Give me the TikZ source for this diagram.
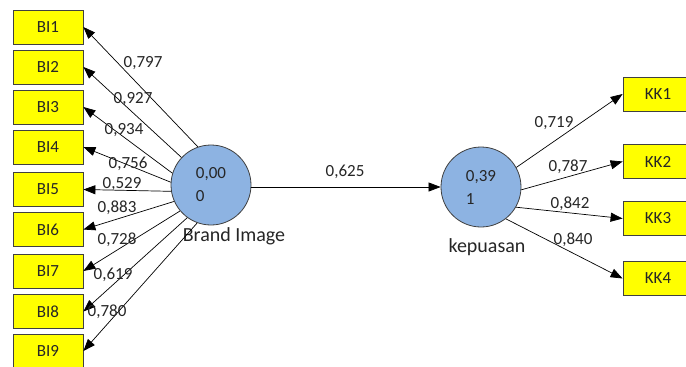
\documentclass[tikz,border=0pt]{standalone}
\usepackage{fontspec}
\setmainfont{Carlito}
\usetikzlibrary{arrows.meta}
\definecolor{boxyellow}{HTML}{FFFF00}
\definecolor{lvblue}{HTML}{8DB3E2}
\definecolor{edgegrey}{HTML}{404040}
\definecolor{txt}{HTML}{262626}
\begin{document}
\begin{tikzpicture}[x=1pt,y=-1pt,
  ind/.style={draw=edgegrey,line width=0.8pt,fill=boxyellow,minimum width=70pt,minimum height=34pt,inner sep=0pt,font=\fontsize{17}{20}\selectfont,text=txt},
  lv/.style={circle,draw=edgegrey,line width=0.8pt,fill=lvblue,minimum size=80pt,inner sep=0pt,align=left,font=\fontsize{17}{23}\selectfont,text=txt},
  lvname/.style={font=\fontsize{20}{24}\selectfont,text=txt,inner sep=0pt},
  wt/.style={font=\fontsize{17}{20}\selectfont,text=txt,inner sep=0pt},
  arr/.style={draw=black,line width=0.7pt,-{Triangle[length=12pt,width=9pt]}}]
\useasboundingbox (0,0) rectangle (686,367);
\fill[white] (0,0) rectangle (686,367);
% indicator boxes
\node[ind] (b1) at (48,27) {BI1};
\node[ind] (b2) at (48,67) {BI2};
\node[ind] (b3) at (48,107) {BI3};
\node[ind] (b4) at (48,147) {BI4};
\node[ind] (b5) at (48,189.5) {BI5};
\node[ind] (b6) at (48,229.5) {BI6};
\node[ind] (b7) at (48,271) {BI7};
\node[ind] (b8) at (48,311.5) {BI8};
\node[ind] (b9) at (48,351) {BI9};
\node[ind] (k1) at (658,94) {KK1};
\node[ind] (k2) at (658,161.5) {KK2};
\node[ind] (k3) at (658,218.5) {KK3};
\node[ind] (k4) at (658,278.5) {KK4};
% latent variables
\node[lv] (bi) at (211,185) {0,00\\0};
\node[lv] (kp) at (481,187) {0,39\\1};
\node[lvname] (biname) at (234,236) {Brand Image};
\node[lvname] (kpname) at (487,247) {kepuasan};
% arrows
\draw[arr] (bi.109) -- (b1.east);
\draw[arr] (bi.137) -- (b2.east);
\draw[arr] (bi.163) -- (b3.east);
\draw[arr] (bi.176) -- (b4.east);
\draw[arr] (bi.189) -- (b5.east);
\draw[arr] (bi.204) -- (b6.east);
\draw[arr] (bi.220) -- (b7.east);
\draw[arr] (bi.234) -- (b8.east);
\draw[arr] (bi.250) -- (b9.east);
\draw[arr] (kp.west -| bi.east) -- (kp.west);
\draw[arr] (kp.29) -- (k1.west);
\draw[arr] (kp.-4) -- (k2.west);
\draw[arr] (kp.-30) -- (k3.west);
\draw[arr] (kp.-52) -- (k4.west);
% weights
\node[wt] (w1) at (143,63) {0,797};
\node[wt] (w2) at (133,99) {0,927};
\node[wt] (w3) at (124,130) {0,934};
\node[wt] (w4) at (128,164) {0,756};
\node[wt] (w5) at (122,184) {0,529};
\node[wt] (w6) at (117,208) {0,883};
\node[wt] (w7) at (117,240) {0,728};
\node[wt] (w8) at (113,275) {0,619};
\node[wt] (w9) at (107,312) {0,780};
\node[wt] (wp) at (345,172) {0,625};
\node[wt] (wk1) at (554,123) {0,719};
\node[wt] (wk2) at (568,167) {0,787};
\node[wt] (wk3) at (570,204) {0,842};
\node[wt] (wk4) at (573,240) {0,840};
\end{tikzpicture}
\end{document}
